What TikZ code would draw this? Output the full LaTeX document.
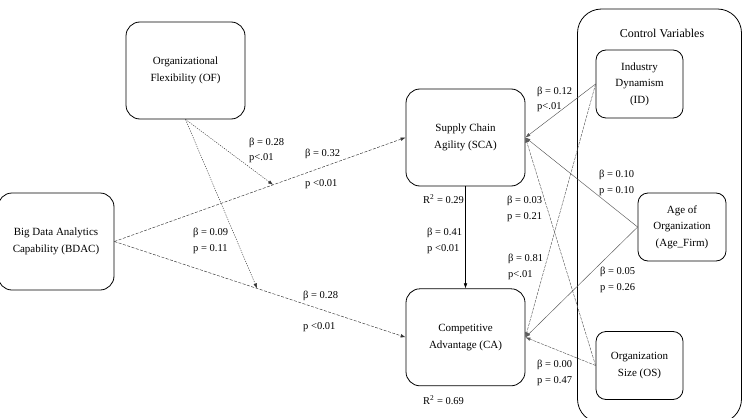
\documentclass[tikz,border=0pt]{standalone}
\usepackage{fontspec}
\setmainfont{Liberation Serif}
\usetikzlibrary{arrows.meta,positioning}

\begin{document}
\begin{tikzpicture}[x=1pt, y=-1pt,
    var/.style={draw, rounded corners=14pt, line width=0.8pt, align=center, font=\fontsize{11}{16.5}\selectfont, minimum width=119pt, minimum height=97pt, inner sep=0pt},
    ctl/.style={var, rounded corners=10pt, minimum width=87pt, minimum height=68pt},
    est/.style={font=\fontsize{10.5}{15.5}\selectfont, align=left, inner sep=0pt, anchor=west},
    path/.style={-{Latex[length=5pt,width=3.6pt]}, line width=0.45pt, draw=black!80},
    hyp/.style={path, dash pattern=on 3pt off 1.5pt},
    mod/.style={path, dash pattern=on 1.2pt off 1.2pt},
    ctrl/.style={path, draw=black!65}
  ]
    \useasboundingbox (0,0) rectangle (743,417);
    % control variables frame
    \node[draw, line width=0.8pt, rounded corners=24pt, minimum width=164pt, minimum height=414pt] (frame) at (659.5,216) {};
    \node[font=\fontsize{12}{14}\selectfont] (ctrltitle) at (662,33) {Control Variables};

    \node[var] (of) at (185.5,70.5) {Organizational\\Flexibility (OF)};
    \node[var, minimum width=116pt] (bdac) at (56,241.5) {Big Data Analytics\\Capability (BDAC)};
    \node[var] (sca) at (465.5,137.5) {Supply Chain\\Agility (SCA)};
    \node[var, below=102pt of sca] (ca) {Competitive\\Advantage (CA)};
    \node[ctl] (id) at (639.5,84) {Industry\\Dynamism\\(ID)};
    \node[ctl, minimum width=88pt] (age) at (682,227) {Age of\\Organization\\(Age\_Firm)};
    \node[ctl] (os) at (639.5,365.5) {Organization\\Size (OS)};

    % main paths
    \draw[hyp] (bdac.east) -- coordinate[pos=0.545] (m1) (sca.west);
    \draw[hyp] (bdac.east) -- coordinate[pos=0.49] (m2) (ca.west);
    \draw[path, draw=black] (sca.south) -- (ca.north);
    % moderation
    \draw[mod] (of.south) -- (m1);
    \draw[mod] (of.south) -- (m2);
    % controls
    \draw[ctrl] (id.west) -- (sca.east);
    \draw[ctrl] (age.west) -- (sca.east);
    \draw[ctrl, dash pattern=on 3pt off 1pt] (os.west) -- (sca.east);
    \draw[ctrl, dash pattern=on 3pt off 1pt] (id.west) -- (ca.east);
    \draw[ctrl] (age.west) -- (ca.east);
    \draw[ctrl, dash pattern=on 3pt off 1pt] (os.west) -- (ca.east);

    % estimates
    \node[est] (e1) at (249,150.5) {β = 0.28\\p<.01};
    \node[est] (e2) at (305,154) {β = 0.32};
    \node[est] (e3) at (305,184) {p <0.01};
    \node[est] (e4) at (193,241) {β = 0.09\\p = 0.11};
    \node[est] (e5) at (303,296) {β = 0.28};
    \node[est] (e6) at (303,327) {p <0.01};
    \node[est] (r1) at (423,199) {R\textsuperscript{2} = 0.29};
    \node[est] (e7) at (427,241) {β = 0.41\\p <0.01};
    \node[est] (e8) at (507,209) {β = 0.03\\p = 0.21};
    \node[est] (e9) at (508,267) {β = 0.81\\p<.01};
    \node[est] (e10) at (537,99.5) {β = 0.12\\p<.01};
    \node[est] (e11) at (599,183) {β = 0.10\\p = 0.10};
    \node[est] (e12) at (600,280) {β = 0.05\\p = 0.26};
    \node[est] (e13) at (537,373) {β = 0.00\\p = 0.47};
    \node[est] (r2) at (423,400) {R\textsuperscript{2} = 0.69};
  \end{tikzpicture}
\end{document}
